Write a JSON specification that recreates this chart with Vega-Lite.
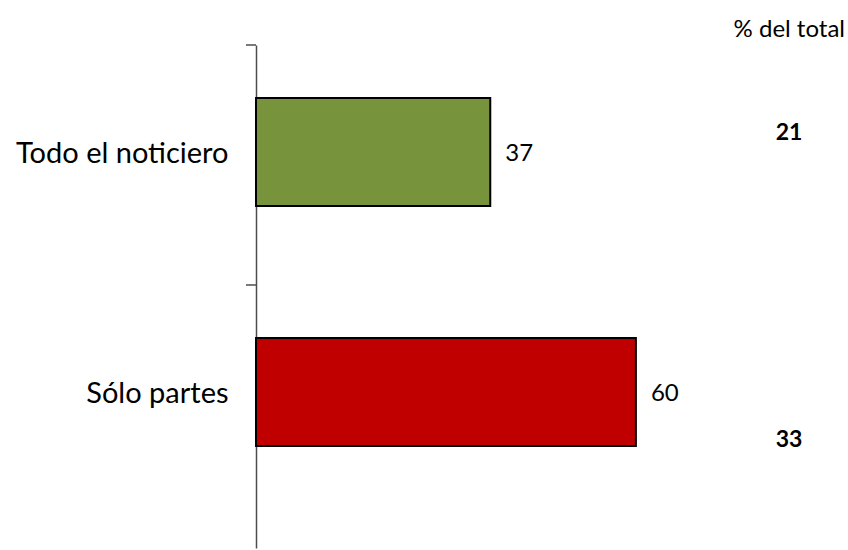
{
  "$schema": "https://vega.github.io/schema/vega-lite/v6.json",
  "width": 592,
  "height": 503,
  "autosize": {"type": "none"},
  "padding": {"left": 256, "top": 45, "right": 0, "bottom": 2},
  "background": "white",
  "config": {"view": {"stroke": null}, "font": "Lato"},
  "title": {"text": "% del total", "anchor": "end", "frame": "group", "fontSize": 24, "fontWeight": "normal", "font": "Lato", "color": "black", "offset": 8, "dx": -3, "dy": 6},
  "data": {"values": [
    {"cat": "Todo el noticiero", "value": 37, "total": 21},
    {"cat": "Sólo partes", "value": 60, "total": 33}
  ]},
  "encoding": {
    "y": {
      "field": "cat", "type": "nominal", "sort": null,
      "scale": {"domain": ["Todo el noticiero", "Sólo partes"], "paddingInner": 0, "paddingOuter": 0.048, "align": 0},
      "axis": {"title": null, "ticks": false, "domainColor": "#4d4d4d", "domainWidth": 1.5, "labelPadding": 28, "labelFontSize": 29, "labelFont": "Lato", "labelColor": "black", "labelOffset": -11, "labelLimit": 0, "grid": false}
    }
  },
  "layer": [
    {
      "mark": {"type": "bar", "height": {"band": 0.45}, "yOffset": -13, "stroke": "black", "strokeWidth": 2},
      "encoding": {
        "x": {"field": "value", "type": "quantitative", "scale": {"domain": [0, 93.5], "nice": false, "zero": true}, "axis": null},
        "color": {"field": "cat", "type": "nominal", "scale": {"domain": ["Todo el noticiero", "Sólo partes"], "range": ["#77933C", "#C00000"]}, "legend": null}
      }
    },
    {
      "mark": {"type": "rule", "color": "#4d4d4d", "strokeWidth": 1.5, "clip": false},
      "encoding": {
        "y": {"field": "cat", "type": "nominal", "sort": null, "bandPosition": 0},
        "x": {"datum": -1.58, "type": "quantitative"},
        "x2": {"datum": 0}
      }
    },
    {
      "mark": {"type": "text", "align": "left", "baseline": "middle", "dx": 15, "dy": -11, "fontSize": 24, "font": "Lato", "color": "black"},
      "encoding": {
        "x": {"field": "value", "type": "quantitative"},
        "text": {"field": "value", "type": "quantitative"}
      }
    },
    {
      "transform": [{"filter": "datum.cat === 'Todo el noticiero'"}],
      "mark": {"type": "text", "align": "center", "baseline": "middle", "dy": -32, "fontSize": 23, "fontWeight": "bold", "font": "Lato", "color": "black"},
      "encoding": {
        "x": {"datum": 84.2, "type": "quantitative"},
        "text": {"field": "total", "type": "quantitative"}
      }
    },
    {
      "transform": [{"filter": "datum.cat === 'Sólo partes'"}],
      "mark": {"type": "text", "align": "center", "baseline": "middle", "dy": 35, "fontSize": 23, "fontWeight": "bold", "font": "Lato", "color": "black"},
      "encoding": {
        "x": {"datum": 84.2, "type": "quantitative"},
        "text": {"field": "total", "type": "quantitative"}
      }
    }
  ]
}
